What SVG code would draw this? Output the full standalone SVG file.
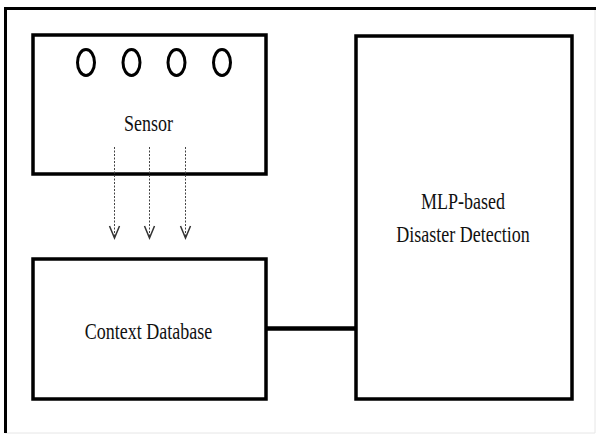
<svg xmlns="http://www.w3.org/2000/svg" width="596" height="439" viewBox="0 0 596 439">
<style>
.box{fill:#fff;stroke:#000;stroke-width:3.5}
.lbl{font-family:"Liberation Serif","Times New Roman",serif;font-size:24px;fill:#111;text-anchor:middle}
.dot{fill:none;stroke:#000;stroke-width:3}
.arr{stroke:#444;stroke-width:1;stroke-dasharray:2 1.5;fill:none}
.head{fill:none;stroke:#333;stroke-width:1.5}
</style>
<rect x="0" y="0" width="596" height="439" fill="#fff"/>
<g id="frame">
<line x1="595" y1="9" x2="595" y2="433" stroke="#e6e6e6" stroke-width="1"/>
<line x1="5" y1="433" x2="595" y2="433" stroke="#e6e6e6" stroke-width="1"/>
<line x1="5.5" y1="7" x2="5.5" y2="433" stroke="#000" stroke-width="3"/>
<line x1="4" y1="8.5" x2="596" y2="8.5" stroke="#000" stroke-width="3"/>
</g>
<g id="sensor">
<rect class="box" x="33" y="35" width="233" height="139"/>
<ellipse class="dot" cx="86" cy="62.5" rx="8.5" ry="13"/>
<ellipse class="dot" cx="131.5" cy="62.5" rx="8.5" ry="13"/>
<ellipse class="dot" cx="176.5" cy="62.5" rx="8.5" ry="13"/>
<ellipse class="dot" cx="222" cy="62.5" rx="8.5" ry="13"/>
<text class="lbl" transform="translate(148.5,131) scale(0.75,1)">Sensor</text>
</g>
<g id="context-database">
<rect class="box" x="33" y="259" width="233" height="140"/>
<text class="lbl" transform="translate(148.5,339) scale(0.75,1)">Context Database</text>
</g>
<g id="mlp-detection">
<rect class="box" x="356" y="36" width="216" height="363"/>
<text class="lbl" transform="translate(463,209) scale(0.75,1)">MLP-based</text>
<text class="lbl" transform="translate(463,242) scale(0.75,1)">Disaster Detection</text>
</g>
<g id="connectors">
<line class="arr" x1="114.5" y1="147" x2="114.5" y2="238"/>
<line class="arr" x1="149.5" y1="147" x2="149.5" y2="238"/>
<line class="arr" x1="185.5" y1="147" x2="185.5" y2="238"/>
<polyline class="head" points="109.5,226 114.5,238 119.5,226"/>
<polyline class="head" points="144.5,226 149.5,238 154.5,226"/>
<polyline class="head" points="180.5,226 185.5,238 190.5,226"/>
<line x1="266" y1="328.5" x2="356" y2="328.5" stroke="#000" stroke-width="4.5"/>
</g>
</svg>
